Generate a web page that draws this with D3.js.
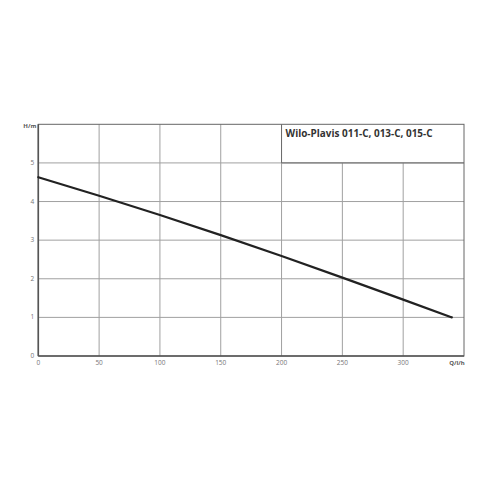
<!DOCTYPE html>
<html>
<head>
<meta charset="utf-8">
<script src="https://cdn.jsdelivr.net/npm/d3@7"></script>
<style>
  body { margin: 0; background: #fff; }
  svg { display: block; font-family: "Open Sans", sans-serif; }
</style>
</head>
<body>
<div class="chart"></div>
<script>
// pump curve
const flow = [0, 50, 100, 150, 200, 250, 300, 340];
const head = [4.63, 4.15, 3.65, 3.13, 2.59, 2.03, 1.46, 1.0];
const xTicks = [0, 50, 100, 150, 200, 250, 300];
const yTicks = [0, 1, 2, 3, 4, 5];
const title = 'Wilo-Plavis 011-C, 013-C, 015-C';

const w = 490, h = 490;
const padLeft = 38.3, padRight = 464, padTop = 124.3, padBottom = 356;

const svg = d3.select('.chart').append('svg')
  .attr('width', w).attr('height', h);

const x = d3.scaleLinear().domain([0, 350]).range([padLeft, padRight]);
const y = d3.scaleLinear().domain([0, 6]).range([padBottom, padTop]);

// grid
svg.append('g')
  .selectAll('line')
  .data(xTicks.slice(1))
  .enter().append('line')
  .attr('x1', d => x(d)).attr('x2', d => x(d))
  .attr('y1', d => d >= 200 ? y(5) : padTop).attr('y2', padBottom)
  .attr('stroke', '#a0a0a0').attr('stroke-width', 1);

svg.append('g')
  .selectAll('line')
  .data(yTicks.slice(1))
  .enter().append('line')
  .attr('x1', padLeft).attr('x2', padRight)
  .attr('y1', d => y(d)).attr('y2', d => y(d))
  .attr('stroke', '#a0a0a0').attr('stroke-width', 1);

// title box
svg.append('line')
  .attr('x1', x(200)).attr('x2', x(200))
  .attr('y1', padTop).attr('y2', y(5))
  .attr('stroke', '#666').attr('stroke-width', 1);
svg.append('line')
  .attr('x1', x(200)).attr('x2', padRight)
  .attr('y1', y(5)).attr('y2', y(5))
  .attr('stroke', '#666').attr('stroke-width', 1);

// frame
svg.append('rect')
  .attr('x', padLeft).attr('y', padTop)
  .attr('width', padRight - padLeft).attr('height', padBottom - padTop)
  .attr('fill', 'none').attr('stroke', '#666').attr('stroke-width', 1);
svg.append('line')
  .attr('x1', padLeft).attr('x2', padLeft).attr('y1', padTop).attr('y2', padBottom)
  .attr('stroke', '#555').attr('stroke-width', 1.6);
svg.append('line')
  .attr('x1', padLeft).attr('x2', padRight).attr('y1', padBottom).attr('y2', padBottom)
  .attr('stroke', '#555').attr('stroke-width', 1.6);

// tick labels
svg.append('g')
  .selectAll('text')
  .data(xTicks)
  .enter().append('text')
  .attr('x', d => x(d)).attr('y', padBottom + 9)
  .attr('text-anchor', 'middle')
  .attr('font-size', 6.5).attr('fill', '#777')
  .text(d => d);

svg.append('g')
  .selectAll('text')
  .data(yTicks)
  .enter().append('text')
  .attr('x', padLeft - 4).attr('y', d => y(d) + 2)
  .attr('text-anchor', 'end')
  .attr('font-size', 6.5).attr('fill', '#777')
  .text(d => d);

svg.append('text')
  .attr('x', padLeft - 2).attr('y', padTop + 4)
  .attr('text-anchor', 'end')
  .attr('font-size', 6).attr('font-weight', 'bold').attr('fill', '#555')
  .text('H/m');

svg.append('text')
  .attr('x', padRight - 7).attr('y', padBottom + 9)
  .attr('text-anchor', 'middle')
  .attr('font-size', 6).attr('font-weight', 'bold').attr('fill', '#555')
  .text('Q/l/h');

svg.append('text')
  .attr('x', x(200) + 4).attr('y', padTop + 13)
  .attr('font-size', 10).attr('font-weight', 'bold').attr('fill', '#333')
  .attr('textLength', 147).attr('lengthAdjust', 'spacingAndGlyphs')
  .text(title);

// curve
const pts = flow.map((q, i) => [q, head[i]]);
svg.append('path')
  .datum(pts)
  .attr('fill', 'none')
  .attr('stroke', '#222')
  .attr('stroke-width', 2.2)
  .attr('stroke-linecap', 'round')
  .attr('d', d3.line().x(d => x(d[0])).y(d => y(d[1])).curve(d3.curveMonotoneX));
</script>
</body>
</html>
